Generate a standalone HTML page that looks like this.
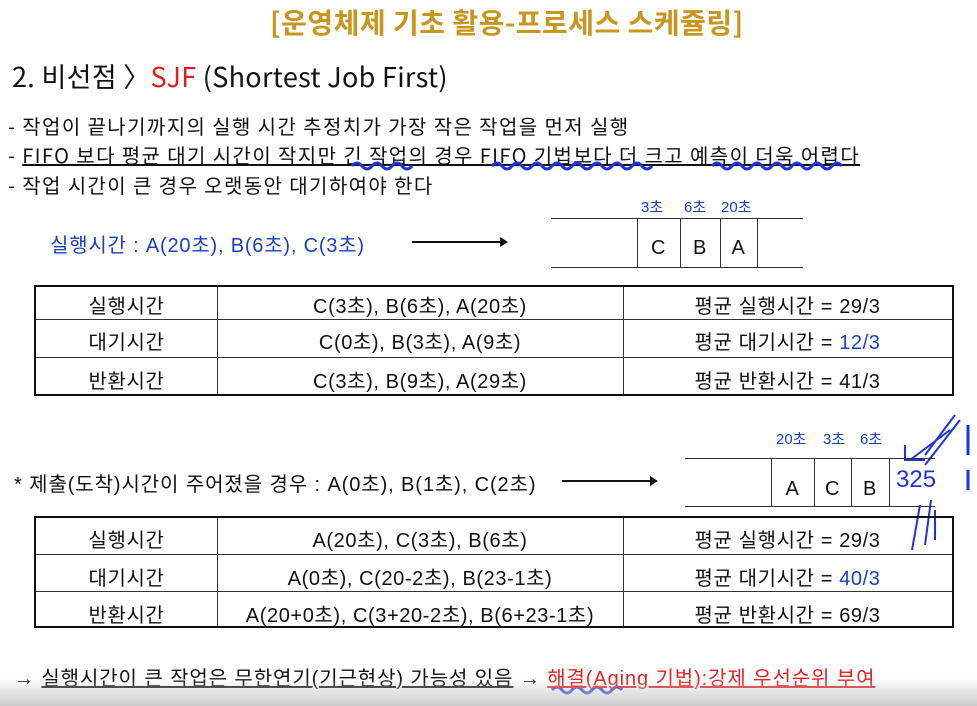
<!DOCTYPE html>
<html><head><meta charset="utf-8"><style>
body{margin:0;width:977px;height:706px;background:#fff;position:relative;overflow:hidden;font-family:"Liberation Sans","Noto Sans CJK KR",sans-serif;color:#111}
.a{position:absolute;white-space:nowrap}
.t{position:absolute;border:2px solid #111;box-sizing:border-box}
.h{position:absolute;height:1px;background:#333}
.v{position:absolute;width:1px;background:#333}
.c{position:absolute;text-align:center;font-size:20px;letter-spacing:0.6px}
.b{font-size:20px;letter-spacing:1.4px;font-family:'Noto Sans CJK KR',sans-serif}
</style></head><body>
<div class="a" style="left:270px;top:2px;font-size:28px;letter-spacing:0.5px;font-weight:bold;color:#c8961e;font-family:'Noto Sans CJK KR',sans-serif">[운영체제 기초 활용-프로세스 스케쥴링]</div>
<div class="a" style="left:12px;top:56px;font-size:27px;letter-spacing:0.3px;font-family:'Noto Sans CJK KR',sans-serif">2. 비선점 〉<span style="color:#e02020">SJF</span> (Shortest Job First)</div>
<div class="a b" style="left:8px;top:111px">- 작업이 끝나기까지의 실행 시간 추정치가 가장 작은 작업을 먼저 실행</div>
<div class="a b" style="left:8px;top:140px">- <u>FIFO 보다 평균 대기 시간이 작지만 긴 작업의 경우 FIFO 기법보다 더 크고 예측이 더욱 어렵다</u></div>
<div class="a b" style="left:8px;top:170px">- 작업 시간이 큰 경우 오랫동안 대기하여야 한다</div>
<svg class="a" style="left:0;top:0" width="977" height="706">
<path d="M352 166 q5 -6 10 0 t10 0 t10 0 t10 0 t10 0 t10 0" fill="none" stroke="#2233dd" stroke-width="3"/>
<path d="M492 166 q5 -6 10 0 t10 0 t10 0 t10 0 t10 0 t10 0 t10 0 t10 0 t10 0 t10 0 t10 0 t10 0 t10 0 t10 0 t10 0 t10 0" fill="none" stroke="#2233dd" stroke-width="3"/>
<path d="M712 166 q5 -6 10 0 t10 0 t10 0 t10 0 t10 0 t10 0 t10 0 t10 0 t10 0 t10 0 t10 0 t10 0 t10 0" fill="none" stroke="#2233dd" stroke-width="3"/>
<path d="M552 690 q5 -6 10 0 t10 0 t10 0 t10 0 t10 0 t10 0 t10 0" fill="none" stroke="#2233dd" stroke-width="3"/>
<path d="M955 415 l-30 40 M960 420 l-35 45 M950 430 l-40 30 M905 445 l0 15 l20 0" fill="none" stroke="#2233dd" stroke-width="2"/>
<text x="896" y="487" font-size="24" fill="#2233dd">325</text>
<path d="M912 550 l8 -45 M925 545 l6 -45 M935 510 l0 30" fill="none" stroke="#2233dd" stroke-width="2"/>
<path d="M968 425 l0 30 M968 470 l0 20" stroke="#2233dd" stroke-width="3"/>
<line x1="412" y1="242" x2="500" y2="242" stroke="#111" stroke-width="2"/><path d="M500 237 l8 5 l-8 5z" fill="#111"/>
<line x1="562" y1="481" x2="650" y2="481" stroke="#111" stroke-width="2"/><path d="M650 476 l8 5 l-8 5z" fill="#111"/>
</svg>
<div class="a" style="left:50px;top:229px;font-size:20px;letter-spacing:0.8px;color:#1a3fc0">실행시간 : A(20초), B(6초), C(3초)</div>
<div>
<div class="h" style="left:551px;top:218px;width:252px"></div><div class="h" style="left:551px;top:267px;width:252px"></div>
<div class="v" style="left:637px;top:218px;height:49px"></div><div class="v" style="left:680px;top:218px;height:49px"></div><div class="v" style="left:720px;top:218px;height:49px"></div><div class="v" style="left:757px;top:218px;height:49px"></div>
<div class="c" style="left:637px;top:237px;width:43px">C</div><div class="c" style="left:680px;top:237px;width:40px">B</div><div class="c" style="left:720px;top:237px;width:37px">A</div>
<div class="a" style="left:641px;top:196px;font-size:15px;color:#1a3fc0">3초</div><div class="a" style="left:684px;top:196px;font-size:15px;color:#1a3fc0">6초</div><div class="a" style="left:721px;top:196px;font-size:15px;color:#1a3fc0">20초</div>
</div>
<div class="t" style="left:34px;top:285px;width:920px;height:111px">
<div class="h" style="left:0;top:32px;width:916px"></div><div class="h" style="left:0;top:70px;width:916px"></div>
<div class="v" style="left:181px;top:0;height:107px"></div><div class="v" style="left:587px;top:0;height:107px"></div>
<div class="c" style="left:0;top:3px;width:181px">실행시간</div><div class="c" style="left:181px;top:3px;width:406px">C(3초), B(6초), A(20초)</div><div class="c" style="left:587px;top:3px;width:329px">평균 실행시간 = 29/3</div>
<div class="c" style="left:0;top:39px;width:181px">대기시간</div><div class="c" style="left:181px;top:39px;width:406px">C(0초), B(3초), A(9초)</div><div class="c" style="left:587px;top:39px;width:329px">평균 대기시간 = <span style="color:#1a3fc0">12/3</span></div>
<div class="c" style="left:0;top:78px;width:181px">반환시간</div><div class="c" style="left:181px;top:78px;width:406px">C(3초), B(9초), A(29초)</div><div class="c" style="left:587px;top:78px;width:329px">평균 반환시간 = 41/3</div>
</div>
<div class="a" style="left:14px;top:468px;font-size:20px;letter-spacing:0.9px">* 제출(도착)시간이 주어졌을 경우 : A(0초), B(1초), C(2초)</div>
<div>
<div class="h" style="left:685px;top:458px;width:250px"></div><div class="h" style="left:685px;top:506px;width:250px"></div>
<div class="v" style="left:771px;top:458px;height:48px"></div><div class="v" style="left:814px;top:458px;height:48px"></div><div class="v" style="left:851px;top:458px;height:48px"></div><div class="v" style="left:889px;top:458px;height:48px"></div>
<div class="c" style="left:771px;top:478px;width:43px">A</div><div class="c" style="left:814px;top:478px;width:37px">C</div><div class="c" style="left:851px;top:478px;width:38px">B</div>
<div class="a" style="left:776px;top:428px;font-size:15px;color:#1a3fc0">20초</div><div class="a" style="left:823px;top:428px;font-size:15px;color:#1a3fc0">3초</div><div class="a" style="left:860px;top:428px;font-size:15px;color:#1a3fc0">6초</div>
</div>
<div class="t" style="left:34px;top:516px;width:920px;height:112px">
<div class="h" style="left:0;top:36px;width:916px"></div><div class="h" style="left:0;top:73px;width:916px"></div>
<div class="v" style="left:181px;top:0;height:108px"></div><div class="v" style="left:587px;top:0;height:108px"></div>
<div class="c" style="left:0;top:6px;width:181px">실행시간</div><div class="c" style="left:181px;top:6px;width:406px">A(20초), C(3초), B(6초)</div><div class="c" style="left:587px;top:6px;width:329px">평균 실행시간 = 29/3</div>
<div class="c" style="left:0;top:44px;width:181px">대기시간</div><div class="c" style="left:181px;top:44px;width:406px">A(0초), C(20-2초), B(23-1초)</div><div class="c" style="left:587px;top:44px;width:329px">평균 대기시간 = <span style="color:#1a3fc0">40/3</span></div>
<div class="c" style="left:0;top:81px;width:181px">반환시간</div><div class="c" style="left:181px;top:81px;width:406px">A(20+0초), C(3+20-2초), B(6+23-1초)</div><div class="c" style="left:587px;top:81px;width:329px">평균 반환시간 = 69/3</div>
</div>
<div class="a" style="left:14px;top:662px;font-size:20px;letter-spacing:0.9px">→ <u>실행시간이 큰 작업은 무한연기(기근현상) 가능성 있음</u> → <u style="color:#e02020">해결(Aging 기법):강제 우선순위 부여</u></div>
<div class="a" style="left:0;top:678px;width:977px;height:28px;background:linear-gradient(#fff0,#ccc)"></div>
</body></html>
